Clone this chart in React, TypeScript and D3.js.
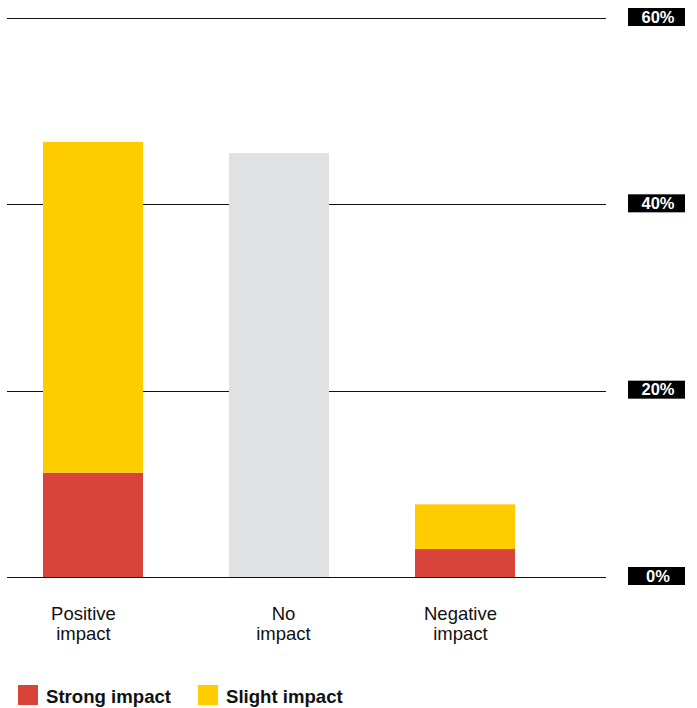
import React from "react";
import * as d3 from "d3";

const categories = ["Positive impact", "No impact", "Negative impact"];
const strongImpact = [11.2, 0, 3.0];
const slightImpact = [35.5, 0, 4.8];
const noImpact = [0, 45.5, 0];
const yTicks = [0, 20, 40, 60];
const legendLabels = ["Strong impact", "Slight impact"];

const W = 697;
const H = 708;
const RED = "#D8443A";
const YELLOW = "#FFCC00";
const GRAY = "#E0E1E3";
const FONT = "'Liberation Sans', Arial, Helvetica, sans-serif";

export default function App() {
  const x = d3
    .scaleBand<string>()
    .domain(categories)
    .range([0, 558])
    .paddingInner(0.4624)
    .paddingOuter(0.2312);
  const y = d3.scaleLinear().domain([0, 60]).range([577, 18]);

  const rows = categories.map((c, i) => ({
    cat: c,
    strong: strongImpact[i],
    slight: slightImpact[i],
    none: noImpact[i],
  }));
  const stack = d3
    .stack<any>()
    .keys(["strong", "slight", "none"])(rows);
  const colors: Record<string, string> = { strong: RED, slight: YELLOW, none: GRAY };
  const labelDx = [-9.5, 4.5, -4.5];

  return (
    <svg
      width={W}
      height={H}
      style={{ position: "absolute", left: 0, top: 0, background: "#fff" }}
      fontFamily={FONT}
    >
      {yTicks.map((t) => (
        <line
          key={"g" + t}
          x1={7}
          x2={606}
          y1={Math.round(y(t)) + 0.5}
          y2={Math.round(y(t)) + 0.5}
          stroke="#111"
          strokeWidth={1}
        />
      ))}
      {stack.map((layer) =>
        layer.map((d, i) =>
          d[1] - d[0] > 0 ? (
            <rect
              key={layer.key + i}
              x={x(categories[i])}
              width={x.bandwidth()}
              y={y(d[1])}
              height={y(d[0]) - y(d[1])}
              fill={colors[layer.key as string]}
            />
          ) : null
        )
      )}
      {yTicks.map((t) => (
        <g key={"t" + t} transform={`translate(0,${y(t)})`}>
          <rect x={628} y={-10} width={57} height={18} fill="#000" />
          <text
            x={658}
            y={-1}
            dy="0.35em"
            textAnchor="middle"
            fill="#fff"
            fontWeight="bold"
            fontSize={16.5}
          >
            {t}%
          </text>
        </g>
      ))}
      {categories.map((c, i) => {
        const cx = (x(c) as number) + x.bandwidth() / 2 + labelDx[i];
        const parts = c.split(" ");
        return (
          <text key={c} x={cx} y={620} textAnchor="middle" fontSize={18.5} fill="#111">
            <tspan x={cx}>{parts[0]}</tspan>
            <tspan x={cx} dy={20}>
              {parts.slice(1).join(" ")}
            </tspan>
          </text>
        );
      })}
      {legendLabels.map((l, i) => {
        const lx = i === 0 ? 18 : 198;
        return (
          <g key={l}>
            <rect x={lx} y={685} width={20} height={20} fill={i === 0 ? RED : YELLOW} />
            <text x={lx + 28} y={703} fontSize={18.6} fontWeight="bold" fill="#111">
              {l}
            </text>
          </g>
        );
      })}
    </svg>
  );
}
